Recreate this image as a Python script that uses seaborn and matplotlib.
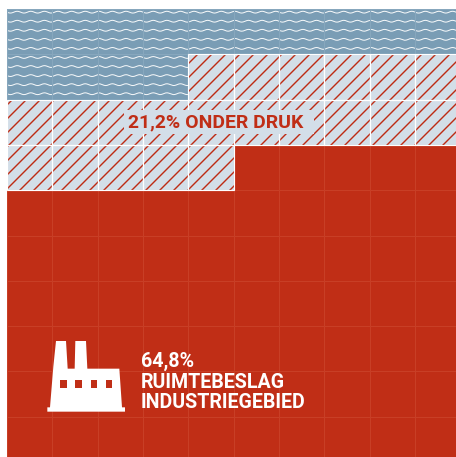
import matplotlib
matplotlib.use("Agg")
import matplotlib.pyplot as plot
import numpy
import seaborn
from matplotlib.colors import ListedColormap
from matplotlib.patches import Polygon, Rectangle
from matplotlib.transforms import IdentityTransform

WIDTH = 456
HEIGHT = 457
DPI = 84
WATER = "#7a9db5"
PRESSURE = "#d3dee8"
INDUSTRY = "#c02e16"

# cells per row of the 10x10 waffle: water, under pressure, industry
WATER_CELLS = [10, 4, 0, 0, 0, 0, 0, 0, 0, 0]
PRESSURE_CELLS = [0, 6, 10, 5, 0, 0, 0, 0, 0, 0]
INDUSTRY_CELLS = [0, 0, 0, 5, 10, 10, 10, 10, 10, 10]
PRESSURE_LABEL = "21,2% ONDER DRUK"
INDUSTRY_LABEL = ["64,8%", "RUIMTEBESLAG", "INDUSTRIEGEBIED"]


def build_matrix():
    rows = []
    for water, pressure, industry in zip(WATER_CELLS, PRESSURE_CELLS, INDUSTRY_CELLS):
        rows.append([0] * water + [1] * pressure + [2] * industry)
    return numpy.array(rows)


def px(x, y):
    """Image pixels (top-left origin) to display coordinates."""
    return x, HEIGHT - y


plot.rcParams["hatch.linewidth"] = 1.2
plot.rcParams["font.family"] = ["Roboto", "DejaVu Sans"]

figure = plot.figure(figsize=(WIDTH / DPI, HEIGHT / DPI), dpi=DPI)
axes = figure.add_axes([7 / WIDTH, -5 / HEIGHT, 453.5 / WIDTH, 453 / HEIGHT])
matrix = build_matrix()
seaborn.heatmap(
    matrix,
    cmap=ListedColormap([WATER, PRESSURE, INDUSTRY]),
    vmin=0,
    vmax=2,
    cbar=False,
    xticklabels=False,
    yticklabels=False,
    square=False,
    ax=axes,
)

# hatching and waves
for row, col in numpy.argwhere(matrix == 1):
    axes.add_patch(
        Rectangle((col, row), 1, 1, facecolor="none", edgecolor="#bd2b14",
                  hatch="//", linewidth=0, zorder=2)
    )
for row, cells in enumerate(WATER_CELLS):
    if cells == 0:
        continue
    x = numpy.linspace(0, cells, cells * 60)
    for offset in range(5):
        y = row + 0.07 + offset * 0.2 + 0.02 * numpy.sin(x * 2 * numpy.pi / 0.3)
        axes.plot(x, y, color="#f7f9fa", linewidth=0.85, solid_capstyle="butt", zorder=2)

# cell borders, each kind with its own colour
borders = {0: ("#87a7bd", 3, 0.9), 2: ("#c83f26", 3, 0.9), 1: ("white", 4, 1.0)}
for kind, (color, zorder, width) in borders.items():
    for row, col in numpy.argwhere(matrix == kind):
        axes.add_patch(
            Rectangle((col, row), 1, 1, facecolor="none", edgecolor=color,
                      linewidth=width, zorder=zorder)
        )

# label on the hatched band
axes.add_patch(
    Rectangle((124, HEIGHT - 134), 190, 24, transform=IdentityTransform(),
              facecolor=PRESSURE, edgecolor="none", zorder=5)
)
figure.text(216 / WIDTH, 1 - 122 / HEIGHT, PRESSURE_LABEL, color=INDUSTRY, fontsize=16.6,
            fontweight="bold", ha="center", va="center", zorder=6)

# factory icon
icon = [(60, 232), (70, 110), (78, 33), (108, 33), (113, 116), (134, 116), (136, 33),
        (168, 33), (172, 116), (268, 116), (276, 232), (285, 232), (285, 245), (52, 245),
        (52, 232)]
axes.add_patch(
    Polygon([px(30 + a / 3, 330 + b / 3) for a, b in icon], transform=IdentityTransform(),
            facecolor="white", edgecolor="none", zorder=5, clip_on=False)
)
for left in (91, 136, 182, 228):
    x0, y0 = px(30 + left / 3, 330 + 175 / 3)
    axes.add_patch(
        Rectangle((x0, y0), 6.3, 8.3, transform=IdentityTransform(),
                  facecolor=INDUSTRY, edgecolor="none", zorder=6)
    )

for text, y in zip(INDUSTRY_LABEL, (361, 382, 403)):
    figure.text(141 / WIDTH, 1 - y / HEIGHT, text, color="white", fontsize=16.8,
                fontweight="bold", ha="left", va="center", zorder=6)

figure.savefig("out.png", dpi=DPI, facecolor="white")
